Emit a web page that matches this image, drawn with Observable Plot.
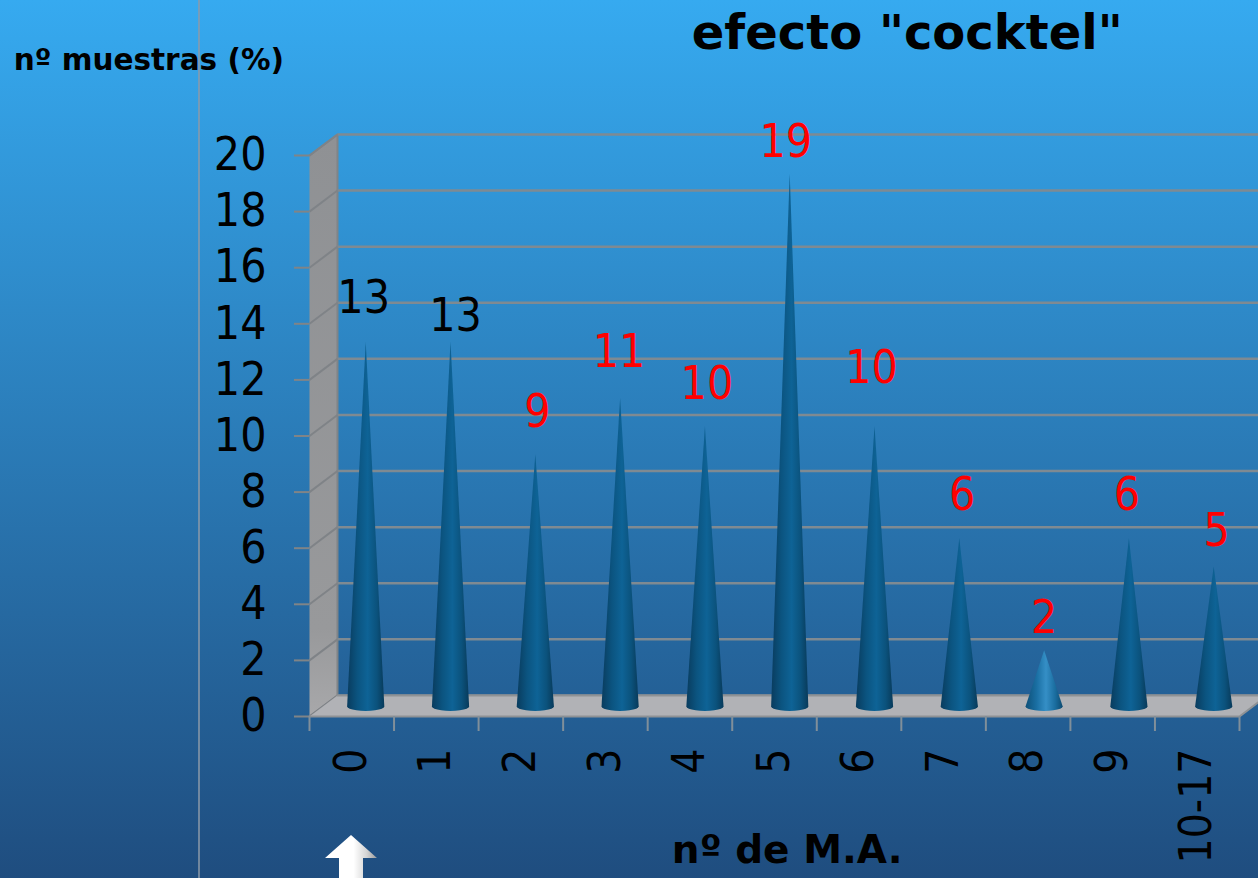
<!DOCTYPE html>
<html>
<head>
<meta charset="utf-8">
<script src="https://cdn.jsdelivr.net/npm/d3@7"></script>
<script src="https://cdn.jsdelivr.net/npm/@observablehq/plot@0.6"></script>
<style>
html,body{margin:0;padding:0;width:1258px;height:878px;overflow:hidden;background:#2a78b0}
svg{display:block}
</style>
</head>
<body>
<div id="chart"></div>
<script>
// Data
const categories = ["0","1","2","3","4","5","6","7","8","9","10-17"];
const values = [13,13,9,11,10,19,10,6,2,6,5];
const yTicks = [0,2,4,6,8,10,12,14,16,18,20];
const titleText = 'efecto "cocktel"';
const yTitle = "nº muestras (%)";
const xTitle = "nº de M.A.";

// Layout of the pseudo-3D box (in scale units)
const depthX = 0.331, depthY = 0.75;
const coneShift = 0.165, coneStep = 1.003, coneHalf = 0.22, coneBase = 0.36, coneRy = 0.16;
const labelNudgeX = [-0.024,0.059,0.024,-0.012,0.024,-0.047,-0.035,0.035,0,-0.024,0.035];
const labelY = [14.9,14.26,10.84,12.98,11.84,20.46,12.4,7.9,3.5,7.9,6.6];
const n = categories.length;

const coneX = i => (i * coneStep) + 0.5 + coneShift;
const conePoints = (v,i) => {
  const c = coneX(i);
  const pts = [{x:c-coneHalf,y:coneBase},{x:c,y:v+coneBase},{x:c+coneHalf,y:coneBase}];
  for (let k=1;k<12;k++){
    const a = Math.PI*k/12;
    pts.push({x:c+coneHalf*Math.cos(a), y:coneBase-coneRy*Math.sin(a)});
  }
  return pts;
};
const conesDark = values.flatMap((v,i)=> v>=5 ? conePoints(v,i).map(p=>({...p,i})) : []);
const conesLight = values.flatMap((v,i)=> v<5 ? conePoints(v,i).map(p=>({...p,i})) : []);

const floor = [{x:0,y:0},{x:n,y:0},{x:n+depthX,y:depthY},{x:depthX,y:depthY}];
const wall = [{x:0,y:0},{x:depthX,y:depthY},{x:depthX,y:20+depthY},{x:0,y:20}];
const labels = categories.map((c,i)=>({i,c,v:values[i],ly:labelY[i],nx:labelNudgeX[i]}));

const defs = () => d3.create("svg:defs").html(`
  <linearGradient id="cone" x1="0" x2="1" y1="0" y2="0">
    <stop offset="0" stop-color="#093c5e"/><stop offset="0.28" stop-color="#0b5480"/>
    <stop offset="0.55" stop-color="#0e6396"/><stop offset="0.8" stop-color="#0b527c"/>
    <stop offset="1" stop-color="#083a5a"/>
  </linearGradient>
  <linearGradient id="coneLight" x1="0" x2="1" y1="0" y2="0">
    <stop offset="0" stop-color="#0e5078"/><stop offset="0.3" stop-color="#1a6fa3"/>
    <stop offset="0.55" stop-color="#358fc6"/><stop offset="0.8" stop-color="#1a6d9f"/>
    <stop offset="1" stop-color="#0d4a70"/>
  </linearGradient>
  <linearGradient id="wallFill" x1="0" x2="0" y1="0" y2="1">
    <stop offset="0" stop-color="#8f9194"/><stop offset="0.85" stop-color="#98999b"/>
    <stop offset="1" stop-color="#a8a8aa"/>
  </linearGradient>
  <linearGradient id="arrowFill" x1="0" x2="1" y1="0" y2="0">
    <stop offset="0.55" stop-color="#ffffff"/><stop offset="0.8" stop-color="#d5d5d5"/><stop offset="1" stop-color="#9a9a9a"/>
  </linearGradient>`).node();

const decor = () => {
  const g = d3.create("svg:g");
  g.append("line").attr("x1",199).attr("x2",199).attr("y1",0).attr("y2",878)
    .attr("stroke","#8d9aa8").attr("stroke-width",1.5);
  g.append("path").attr("d","M351 835L325 858L339 858L339 878L363 878L363 858L377 858Z")
    .attr("fill","url(#arrowFill)");
  return g.node();
};

const chart = Plot.plot({
  width:1258, height:878,
  marginLeft:309, marginRight:19, marginTop:155, marginBottom:162,
  x:{type:"linear",domain:[0,n],axis:null},
  y:{domain:[0,20],axis:null},
  style:{background:"linear-gradient(180deg,#36aaf0 0%,#1f4d7f 100%)",fontFamily:"'DejaVu Sans Condensed','DejaVu Sans',sans-serif",color:"black"},
  marks:[
    defs, decor,
    Plot.line(wall,{x:"x",y:"y",fill:"url(#wallFill)",stroke:"#808487",strokeWidth:2}),
    // back wall grid
    Plot.link(yTicks,{x1:depthX,x2:n+depthX,y1:d=>d+depthY,y2:d=>d+depthY,stroke:"#7f8a92",strokeWidth:2.5}),
    // left wall grid
    Plot.link(yTicks,{x1:0,x2:depthX,y1:d=>d,y2:d=>d+depthY,stroke:"#7f8387",strokeWidth:2}),
    Plot.line(floor,{x:"x",y:"y",fill:"#b1b2b6",stroke:"#8f9295",strokeWidth:2}),
    Plot.line(conesDark,{x:"x",y:"y",z:"i",fill:"url(#cone)",stroke:"none"}),
    Plot.line(conesLight,{x:"x",y:"y",z:"i",fill:"url(#coneLight)",stroke:"none"}),
    Plot.axisY(yTicks,{anchor:"left",label:null,tickSize:15,tickPadding:28,fontSize:46,stroke:"#808487",strokeWidth:2,fill:"black"}),
    Plot.axisX(d3.range(n+1),{anchor:"bottom",label:null,tickSize:15,tickFormat:()=>"",stroke:"#808f9a",strokeWidth:2}),
    Plot.text(labels,{x:d=>d.i+0.5,y:0,dy:32,text:"c",rotate:-90,textAnchor:"end",fontSize:44,fill:"black"}),
    Plot.text(labels,{x:d=>coneX(d.i)+d.nx,y:"ly",text:"v",fontSize:46,fill:d=>d.i<2?"black":"red"}),
    Plot.text([titleText],{x:[7.07],y:[24.36],text:d=>d,fontFamily:"'DejaVu Sans',sans-serif",fontWeight:"bold",fontSize:48,fill:"black"}),
    Plot.text([yTitle],{x:[-1.9],y:[23.4],text:d=>d,fontFamily:"'DejaVu Sans',sans-serif",fontWeight:"bold",fontSize:29.5,fill:"black"}),
    Plot.text([xTitle],{x:[5.65],y:[-4.78],text:d=>d,fontFamily:"'DejaVu Sans',sans-serif",fontWeight:"bold",fontSize:39,fill:"black"})
  ]
});
document.getElementById("chart").appendChild(chart);
</script>
</body>
</html>
